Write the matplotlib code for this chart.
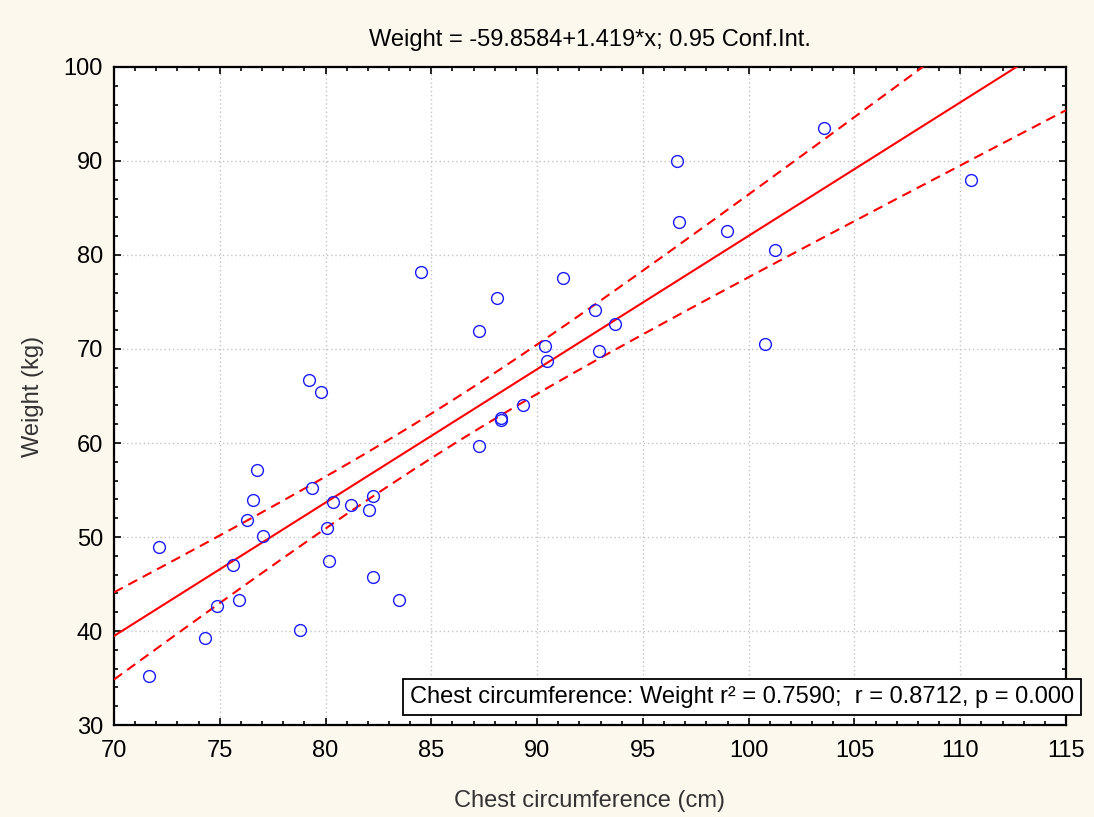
import numpy as np
import matplotlib
matplotlib.use("Agg")
import matplotlib.pyplot as plt
from matplotlib.ticker import MultipleLocator

plt.rcParams['font.family'] = ['Liberation Sans', 'DejaVu Sans']

# ---- data ----
chest = [71.65, 72.13, 74.30, 74.85, 75.62, 75.92, 76.27, 76.55, 76.77, 77.03,
         78.81, 79.22, 79.37, 79.77, 80.07, 80.15, 80.37, 81.20, 82.05, 82.24,
         82.26, 83.47, 84.51, 87.24, 87.24, 88.09, 88.28, 88.28, 89.33, 90.35,
         90.47, 91.21, 92.72, 92.91, 93.67, 96.60, 96.69, 98.96, 100.76, 101.23,
         103.57, 110.49]
weight = [35.25, 48.9, 39.3, 42.7, 47.0, 43.3, 51.8, 53.9, 57.1, 50.1,
          40.1, 66.73, 55.2, 65.46, 51.0, 47.4, 53.75, 53.4, 52.9, 45.7,
          54.4, 43.3, 78.2, 71.9, 59.7, 75.45, 62.7, 62.4, 64.0, 70.35,
          68.7, 77.6, 74.2, 69.75, 72.7, 89.97, 83.54, 82.5, 70.56, 80.56,
          93.5, 88.0]
intercept = -59.8584
slope = 1.419
t_crit = 2.0211   # t(0.975, df=40)
title = "Weight = -59.8584+1.419*x; 0.95 Conf.Int."
stats_text = "Chest circumference: Weight r\u00b2 = 0.7590;  r = 0.8712, p = 0.000"
xlabel = "Chest circumference (cm)"
ylabel = "Weight (kg)"

x = np.array(chest)
y = np.array(weight)
n = len(x)
resid = y - (intercept + slope * x)
s = np.sqrt(np.sum(resid ** 2) / (n - 2))
xbar = x.mean()
sxx = np.sum((x - xbar) ** 2)

xs = np.linspace(70, 115, 300)
ys = intercept + slope * xs
se = s * np.sqrt(1.0 / n + (xs - xbar) ** 2 / sxx)

FS = 17
fig = plt.figure(figsize=(10.94, 8.17), dpi=100, facecolor='#fdf8ed')
ax = fig.add_axes([0.1042, 0.1126, 0.8702, 0.8054])
ax.set_facecolor('white')

ax.plot(xs, ys, color='red', lw=1.5, zorder=3)
ax.plot(xs, ys + t_crit * se, color='red', lw=1.5, ls=(0, (4.8, 3)), zorder=3)
ax.plot(xs, ys - t_crit * se, color='red', lw=1.5, ls=(0, (4.8, 3)), zorder=3)
ax.plot(x, y, 'o', mfc='none', mec='#1a1aff', mew=1.0, ms=8.5, zorder=4)

ax.set_xlim(70, 115)
ax.set_ylim(30, 100)
ax.xaxis.set_major_locator(MultipleLocator(5))
ax.xaxis.set_minor_locator(MultipleLocator(1))
ax.yaxis.set_major_locator(MultipleLocator(10))
ax.yaxis.set_minor_locator(MultipleLocator(2))
ax.tick_params(which='both', direction='in', top=True, right=True,
               width=1.2, labelsize=FS, colors='black')
ax.tick_params(which='major', length=5)
ax.tick_params(which='minor', length=3)
ax.tick_params(axis='x', which='major', pad=11)
ax.tick_params(axis='y', which='major', pad=8)
for sp in ax.spines.values():
    sp.set_linewidth(1.6)
ax.grid(True, which='major', ls=(0, (1, 2)), color='#c4c4c4', lw=1.0)
ax.set_axisbelow(True)

ax.set_title(title, fontsize=FS, pad=15)
ax.set_xlabel(xlabel, fontsize=FS, color='#333333', labelpad=20)
ax.set_ylabel(ylabel, fontsize=FS, color='#333333', labelpad=14)

fig.text(0.9815, 0.1469, stats_text, ha='right', va='center', fontsize=FS,
         bbox=dict(boxstyle='square,pad=0.3', fc='white', ec='black', lw=1.3),
         zorder=10)

fig.savefig('out.png', dpi=100, facecolor=fig.get_facecolor())
